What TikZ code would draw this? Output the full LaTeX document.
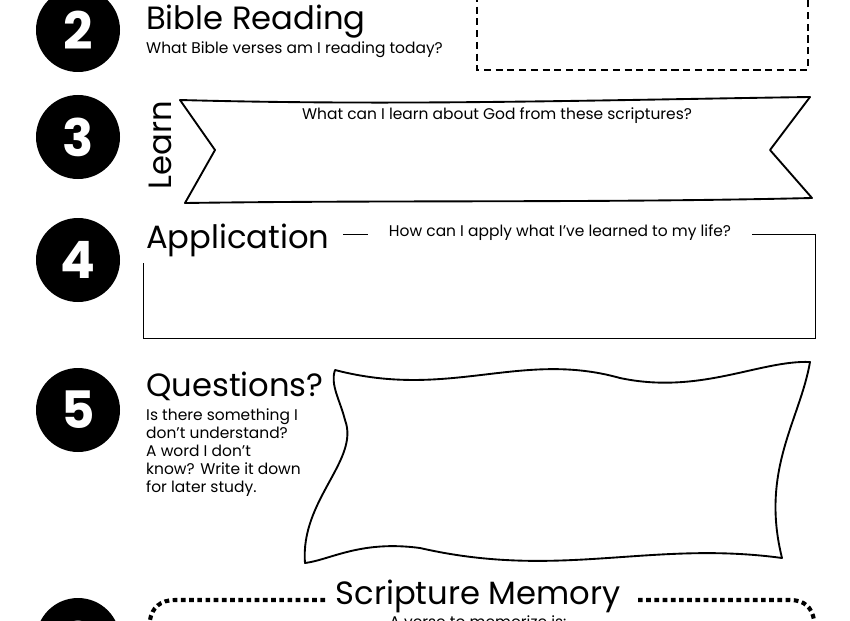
\documentclass[tikz,border=0pt]{standalone}
\usepackage{fontspec}
\setmainfont{Poppins}
\begin{document}
\begin{tikzpicture}[x=0.03cm, y=-0.03cm,
    numdot/.style={circle, fill=black, minimum size=84*0.03cm, inner sep=0pt,
                   text=white, font=\fontsize{44}{44}\selectfont\bfseries},
    heading/.style={anchor=west, inner sep=0pt, font=\fontsize{27.5}{30}\selectfont},
    prompt/.style={inner sep=0pt, font=\fontsize{13.2}{15.5}\selectfont},
    frame/.style={draw, line width=1.6pt, line join=round}
  ]
    \useasboundingbox (0,0) rectangle (850,620);

    % numbers
    \node[numdot] (n2) at (78,30)  {2};
    \node[numdot] (n3) at (78,137) {3};
    \node[numdot] (n4) at (78,260) {4};
    \node[numdot] (n5) at (78,410) {5};
    \node[numdot] (n6) at (78,640) {6};

    % 2 Bible reading
    \node[heading] (bible) at (146,22) {Bible Reading};
    \node[prompt, anchor=west] (biblep) at (146,50) {What Bible verses am I reading today?};
    \draw[line width=1.2pt, dash pattern=on 6pt off 4pt] (477,-5) -- (477,70) -- (808,70) -- (808,-5);

    % 3 Learn
    \node[heading, rotate=90, anchor=center] (learn) at (160,145) {Learn};
    \draw[frame] (180,100) .. controls (400,106) and (600,100) .. (810,97)
      -- (770,150) -- (812,198) .. controls (600,203) and (400,200) .. (185,203)
      -- (215,150) -- cycle;
    \node[prompt] (learnp) at (497,116) {What can I learn about God from these scriptures?};

    % 4 Application
    \node[heading] (appl) at (146,240) {Application};
    \node[prompt] (applp) at (560,233) {How can I apply what I’ve learned to my life?};
    \draw[thin] (343,234) -- (368,234);
    \draw[thin] (752,234) -- (815,234) -- (815,338) -- (143,338) -- (143,263);

    % 5 Questions
    \node[heading] (quest) at (146,386) {Questions?};
    \node[prompt, anchor=north west, align=left] (questp) at (146,408)
      {Is there something I\\don’t understand?\\A word I don’t\\know? Write it down\\for later study.};
    \draw[frame] (335,370) .. controls (450,400) and (520,350) .. (620,378)
      .. controls (700,395) and (760,360) .. (810,362)
      .. controls (800,420) and (760,470) .. (782,558)
      .. controls (650,540) and (560,580) .. (420,548)
      .. controls (360,540) and (330,560) .. (305,563)
      .. controls (300,500) and (360,460) .. (345,420)
      .. controls (340,400) and (330,385) .. cycle;

    % 6 Scripture memory
    \node[inner sep=0pt, font=\fontsize{27.5}{30}\selectfont] (memory) at (478,596) {Scripture Memory};
    \node[prompt] (memoryp) at (478,622) {A verse to memorize is:};
    \draw[line width=3.5pt, dash pattern=on 4pt off 3pt] (325,600) -- (175,600)
      .. controls (160,600) and (152,608) .. (150,620);
    \draw[line width=3.5pt, dash pattern=on 4pt off 3pt] (638,600) -- (790,600)
      .. controls (805,600) and (812,608) .. (814,620);
\end{tikzpicture}
\end{document}
